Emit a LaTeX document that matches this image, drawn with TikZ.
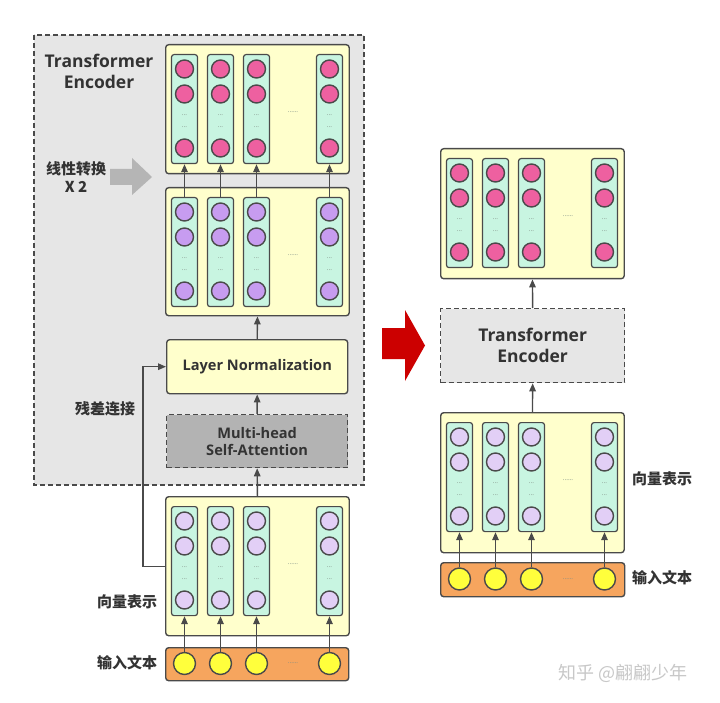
\documentclass[tikz,border=0pt]{standalone}
\usepackage{fontspec}
\setmainfont{Open Sans}
\newfontfamily\cjk{Noto Sans CJK SC}
\usetikzlibrary{arrows.meta}
\definecolor{yfill}{HTML}{FFFFCC}
\definecolor{mint}{HTML}{C8F5E1}
\definecolor{pinkc}{HTML}{EE60A0}
\definecolor{purpc}{HTML}{C79CF0}
\definecolor{lpurpc}{HTML}{E2CFF6}
\definecolor{orangec}{HTML}{F6A55E}
\definecolor{yellc}{HTML}{FFFF3C}
\definecolor{bord}{HTML}{4A4A4A}
\definecolor{tcol}{HTML}{333333}
\definecolor{encbg}{HTML}{E6E6E6}
\definecolor{mhbg}{HTML}{B3B3B3}
\definecolor{garrow}{HTML}{B5B5B5}
\definecolor{redc}{HTML}{CC0000}
\definecolor{dotc}{HTML}{7F8F86}
\definecolor{wmark}{HTML}{C8C8C8}
\newcommand\vgroup[5]{%
  \node[ybox, minimum width=183.5pt, minimum height=#4pt, anchor=north west] (#1box) at (#2,#3) {};
  \foreach \i/\dx in {1/19.5,2/55.5,3/91.5,4/164.5}{
    \node[colbox, anchor=north] (#1c\i) at (#2+\dx,#3+10) {};
    \node[circ, fill=#5] (#1c\i a) at (#2+\dx,#3+25) {};
    \node[circ, fill=#5] (#1c\i b) at (#2+\dx,#3+50) {};
    \node[circ, fill=#5] (#1c\i c) at (#2+\dx,#3+104) {};
    \node[sdots] (#1c\i d) at (#2+\dx,#3+71) {...};
    \node[sdots] (#1c\i e) at (#2+\dx,#3+83) {...};
  }
  \node[sdots] (#1mid) at (#2+128,#3+68) {......};
}
\begin{document}
\begin{tikzpicture}[x=1pt,y=-1pt,
  ybox/.style={draw=bord, fill=yfill, rounded corners=3pt, line width=1.4pt, inner sep=0},
  colbox/.style={draw=bord, fill=mint, rounded corners=2.5pt, line width=1.2pt, minimum width=26pt, minimum height=109pt, inner sep=0},
  circ/.style={circle, draw=bord, line width=1.4pt, minimum size=18pt, inner sep=0},
  ycirc/.style={circle, draw=bord, fill=yellc, line width=1.4pt, minimum size=22pt, inner sep=0},
  sdots/.style={inner sep=0, text=dotc, font=\fontsize{6.5}{6.5}\selectfont},
  arr/.style={-{Triangle[length=8pt,width=6.5pt]}, line width=1.4pt, draw=bord},
  lat/.style={text=tcol, font=\fontsize{14.6}{17}\selectfont\bfseries, align=center, inner sep=0},
  big/.style={text=tcol, font=\fontsize{17.5}{21}\selectfont\bfseries, align=center, inner sep=0},
  zh/.style={text=tcol, font=\cjk\fontsize{15}{18}\selectfont\bfseries, align=center, inner sep=0},
  ]
\useasboundingbox (0,0) rectangle (720,703);
\fill[white] (0,0) rectangle (720,703);

% ---------- left: encoder background
\draw[fill=encbg, draw=bord, line width=1.3pt, dash pattern=on 5pt off 3pt] (34,35) rectangle (364,485);
\node[big] (tenc) at (99,71.5) {Transformer\\Encoder};

% groups
\vgroup{lp}{165}{44}{129}{pinkc}
\vgroup{lu}{165}{187}{128}{purpc}
\vgroup{lb}{165}{496}{139}{lpurpc}

% gray arrow + label
\fill[garrow] (110,169) -- (132,169) -- (132,158) -- (152,177) -- (132,195) -- (132,185) -- (110,185) -- cycle;
\node[zh] (lin) at (76,177) {线性转换\\X 2};

% LN and MHSA
\node[ybox, minimum width=181pt, minimum height=54pt, anchor=north west] (ln) at (166,339) {};
\node[lat] (lnt) at (ln.center) {Layer Normalization};
\node[draw=bord, fill=mhbg, line width=1.3pt, dash pattern=on 5pt off 3pt, minimum width=181pt, minimum height=53pt, anchor=north west, inner sep=0] (mh) at (166,414) {};
\node[lat] (mht) at (mh.center) {Multi-head\\Self-Attention};

% input row
\node[draw=bord, fill=orangec, rounded corners=3pt, line width=1.4pt, minimum width=183pt, minimum height=33pt, anchor=north west, inner sep=0] (lin0) at (165,647) {};
\foreach \i/\x in {1/184.5,2/220.5,3/256.5,4/329.5}{
  \node[ycirc] (li\i) at (\x,663.5) {};
  \draw[arr] (li\i.north) -- (lbc\i.south);
  \draw[arr] (luc\i.north) -- (lpc\i.south);
}
\node[sdots] (limid) at (293,663) {......};

% arrows left stack
\draw[arr] (lbbox.north) -- (mh.south);
\draw[arr] (mh.north) -- (ln.south);
\draw[arr] (ln.north) -- (lubox.south);
\draw[arr] (lbbox.west) -- ++(-22,0) |- (ln.west);

\node[zh] (res) at (105,409) {残差连接};
\node[zh] (vecl) at (127,602) {向量表示};
\node[zh] (inl) at (127,663) {输入文本};

% ---------- red arrow
\fill[redc] (382,328) -- (405,328) -- (405,310) -- (425,345.5) -- (405,381) -- (405,359) -- (382,359) -- cycle;

% ---------- right side
\vgroup{rp}{440}{148}{130}{pinkc}
\vgroup{ru}{440}{412}{140}{lpurpc}
\node[draw=bord, fill=encbg, line width=1.3pt, dash pattern=on 5pt off 3pt, minimum width=184pt, minimum height=74pt, anchor=north west, inner sep=0] (te) at (440,308) {};
\node[big] (tet) at (te.center) {Transformer\\Encoder};
\draw[arr] (te.north) -- (rpbox.south);
\draw[arr] (rubox.north) -- (te.south);

\node[draw=bord, fill=orangec, rounded corners=3pt, line width=1.4pt, minimum width=184pt, minimum height=34pt, anchor=north west, inner sep=0] (rin0) at (440,562) {};
\foreach \i/\x in {1/459.5,2/495.5,3/531.5,4/604.5}{
  \node[ycirc] (ri\i) at (\x,579) {};
  \draw[arr] (ri\i.north) -- (ruc\i.south);
}
\node[sdots] (rimid) at (568,579) {......};

\node[zh] (vecr) at (662,479) {向量表示};
\node[zh] (inr) at (662,578) {输入文本};

% watermark
\node[text=wmark, font=\cjk\fontsize{18}{20}\selectfont, inner sep=0] (wm) at (623,673) {知乎 @翩翩少年};
\end{tikzpicture}
\end{document}
